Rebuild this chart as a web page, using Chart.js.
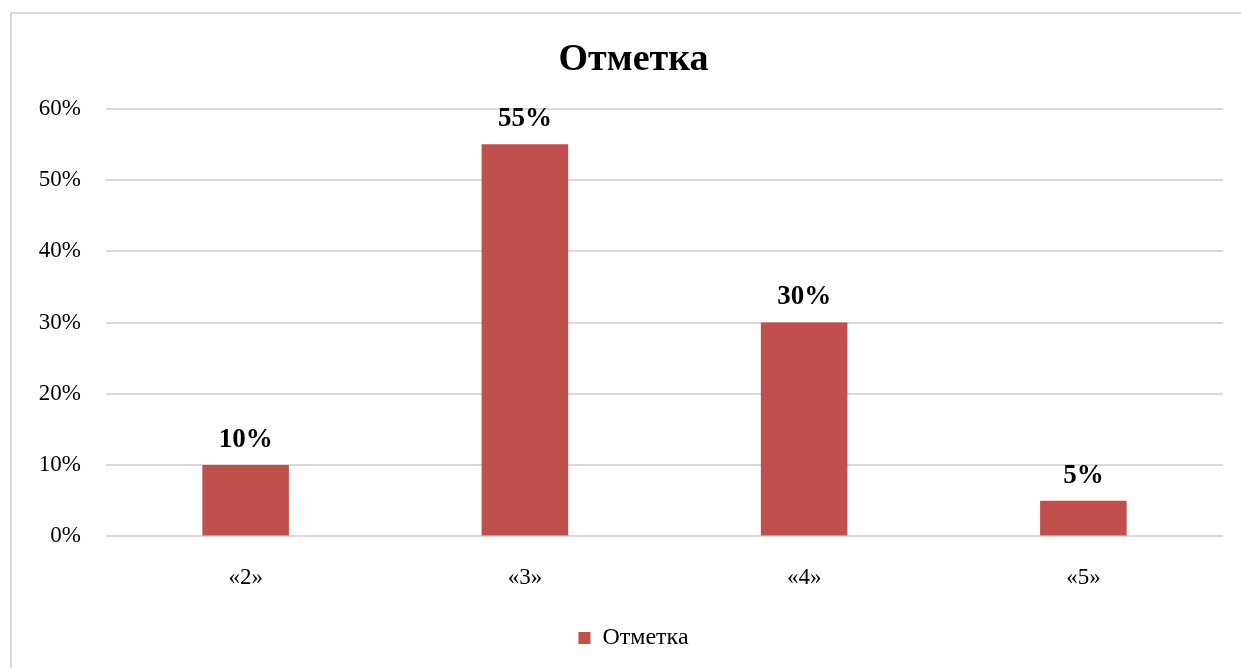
<!DOCTYPE html>
<html>
<head>
<meta charset="utf-8">
<script src="https://cdn.jsdelivr.net/npm/chart.js@4"></script>
<style>
  html, body { margin: 0; padding: 0; background: #fff; }
  #wrap { position: relative; width: 1241px; height: 668px; overflow: hidden; }
  #frame { position: absolute; left: 10px; top: 12px; width: 1300px; height: 700px;
           border-top: 2px solid #d9d9d9; border-left: 2px solid #d9d9d9; }
  #box { position: absolute; left: 0; top: 0; width: 1241px; height: 668px; }
</style>
</head>
<body>
<div id="wrap">
  <div id="frame"></div>
  <div id="box"><canvas id="c"></canvas></div>
</div>
<script>
const categories = ['«2»', '«3»', '«4»', '«5»'];
const seriesName = 'Отметка';
const values = [10, 55, 30, 5];
const yTicks = [0, 10, 20, 30, 40, 50, 60];

const FONT = '"Liberation Serif", "Times New Roman", serif';

const valueLabels = {
  id: 'valueLabels',
  beforeDraw(chart) {
    // let the y tick labels extend left of the (narrowed) axis box
    chart.scales.y._computeLabelArea = () => undefined;
  },
  afterDatasetsDraw(chart) {
    const ctx = chart.ctx;
    const meta = chart.getDatasetMeta(0);
    const y = chart.scales.y;
    ctx.save();
    ctx.font = 'bold 27px ' + FONT;
    ctx.fillStyle = '#000';
    ctx.textAlign = 'center';
    ctx.textBaseline = 'middle';
    meta.data.forEach((bar, i) => {
      const top = y.getPixelForValue(values[i]);
      ctx.fillText(values[i] + '%', bar.x, top - 25);
    });
    ctx.restore();
  }
};

new Chart(document.getElementById('c'), {
  type: 'bar',
  data: {
    labels: categories,
    datasets: [{
      label: seriesName,
      data: values,
      backgroundColor: '#C0504D',
      borderWidth: 0,
      barPercentage: 0.62,
      categoryPercentage: 0.5
    }]
  },
  options: {
    responsive: true,
    maintainAspectRatio: false,
    animation: false,
    layout: { padding: { left: 44, right: 18, top: 0, bottom: 8 } },
    plugins: {
      title: {
        display: true,
        text: seriesName,
        color: '#000',
        font: { family: FONT, size: 38, weight: 'bold', lineHeight: 1.2 },
        padding: { top: 37, bottom: 26 }
      },
      legend: {
        position: 'bottom',
        labels: {
          color: '#000',
          font: { family: FONT, size: 24 },
          boxWidth: 12,
          boxHeight: 12,
          padding: 5
        }
      },
      tooltip: { enabled: false }
    },
    scales: {
      x: {
        grid: { display: false },
        border: { display: false },
        afterFit(scale) { scale.height += 9; },
        ticks: { color: '#000', font: { family: FONT, size: 23 }, padding: 20 }
      },
      y: {
        min: 0,
        max: 60,
        afterBuildTicks(scale) { scale.ticks = yTicks.map(v => ({ value: v })); },
        afterFit(scale) { scale.width = 62; },
        grid: { color: '#d9d9d9', lineWidth: 2, drawTicks: false },
        border: { display: false },
        ticks: {
          color: '#000',
          font: { family: FONT, size: 23 },
          padding: 25,
          callback: v => v + '%'
        }
      }
    }
  },
  plugins: [valueLabels]
});
</script>
</body>
</html>
